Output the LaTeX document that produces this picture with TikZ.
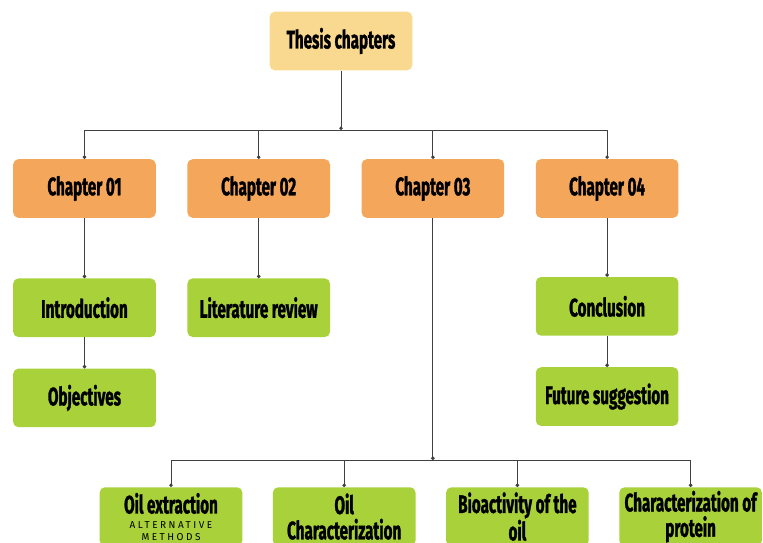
\documentclass[tikz,border=0pt]{standalone}
\usepackage{fontspec}
\newfontfamily\boxfont{Fira Sans}[FakeStretch=0.6, BoldFeatures={FakeBold=1.2}]
\newfontfamily\tagfont{Fira Sans}[LetterSpace=25]
\usepackage{xcolor}
\definecolor{pale-gold}{HTML}{F9D98F}
\definecolor{pale-orange}{HTML}{F4A65A}
\definecolor{leaf-green}{HTML}{A8D13A}
\usetikzlibrary{positioning}
\usetikzlibrary{arrows.meta}
\tikzset{box/.style = {rounded corners=4pt, align=center, text centered, text=black, minimum width=107pt, minimum height=44pt, inner sep=2pt, font=\boxfont\bfseries\fontsize{19}{19}\selectfont}}
\tikzset{root/.style = {box, fill=pale-gold}}
\tikzset{chapter/.style = {box, fill=pale-orange}}
\tikzset{part/.style = {box, fill=leaf-green}}
\tikzset{link/.style = {draw=black!75, line width=0.75pt, -{Circle[length=2.6pt]}}}
\newcommand{\tagline}[1]{{\tagfont\mdseries\fontsize{7.5}{8}\selectfont #1}}

\begin{document}
\begin{tikzpicture}[x=0.75pt, y=-0.75pt,
  node distance = 23.25pt
]
\clip (0,0) rectangle (763,542);

\node[root] (top) at (341,41) {Thesis chapters};

\node[chapter] (ch1) at (84.5,188.5) {Chapter 01};
\node[chapter, right=of ch1] (ch2) {Chapter 02};
\node[chapter, right=of ch2] (ch3) {Chapter 03};
\node[chapter, right=of ch3] (ch4) {Chapter 04};

\node[part, below=45pt of ch1] (intro) {Introduction};
\node[part, below=of intro] (obj) {Objectives};
\node[part, below=45pt of ch2] (lit) {Literature review};
\node[part, below=44pt of ch4] (concl) {Conclusion};
\node[part, below=of concl] (future) {Future suggestion};

% chapter 03 splits into four parts at the bottom
\node[part, anchor=north] (oil) at (171,487) {Oil extraction\\[-7.5pt]
  \tagline{ALTERNATIVE}\\[-10.5pt]
  \tagline{METHODS}};
\node[part, right=22.5pt of oil.north east, anchor=north west] (oilchar) {Oil\\Characterization};
\node[part, right=22.5pt of oilchar.north east, anchor=north west] (bio) {Bioactivity of the\\oil};
\node[part, right=22.5pt of bio.north east, anchor=north west] (prot) {Characterization of\\protein};

\coordinate (hubA) at (top.south |- 0,130);
\coordinate (hubB) at (ch3.south |- 0,460);

\draw[link] (top) -- (hubA);
\foreach \c in {ch1,ch2,ch3,ch4}
  \draw[link] (hubA) -| (\c.north);

\draw[link] (ch1) -- (intro);
\draw[link] (intro) -- (obj);
\draw[link] (ch2) -- (lit);
\draw[link] (ch4) -- (concl);
\draw[link] (concl) -- (future);

\draw[link] (ch3) -- (hubB);
\foreach \p in {oil,oilchar,bio,prot}
  \draw[link] (hubB) -| (\p.north);

\end{tikzpicture}
\end{document}
